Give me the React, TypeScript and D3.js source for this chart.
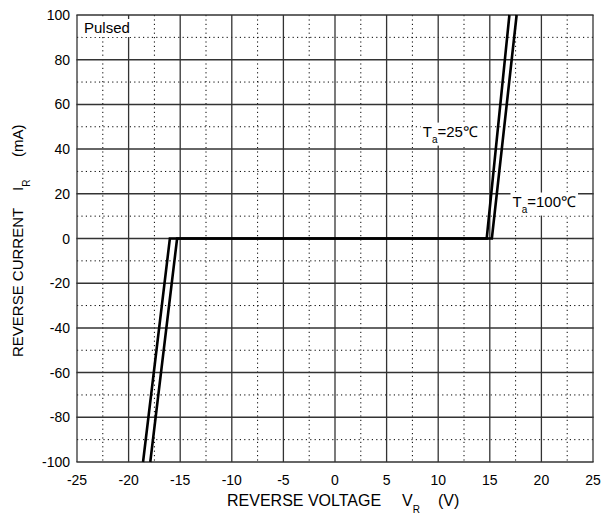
import { useEffect, useRef } from "react"
import * as d3 from "d3"

const width = 603
const height = 518

const voltTicks = [-25, -20, -15, -10, -5, 0, 5, 10, 15, 20, 25]
const currentTicks = [-100, -80, -60, -40, -20, 0, 20, 40, 60, 80, 100]

// breakdown curves: voltage (V) vs current (mA)
const ta25Volt = [-17.9, -15.3, 14.7, 16.9]
const ta25Curr = [-100, 0, 0, 100]
const ta100Volt = [-18.6, -16.0, 15.2, 17.6]
const ta100Curr = [-100, 0, 0, 100]

const curveLabels = [
  { temp: "=25℃", v: 8.5, i: 45.6 },
  { temp: "=100℃", v: 17.2, i: 14.3 },
]

const font = "'Liberation Sans', Arial, sans-serif"

export default function App() {
  const svgRef = useRef<SVGSVGElement>(null)

  useEffect(() => {
    if (!svgRef.current) return
    const svg = d3.select(svgRef.current)
    svg.selectAll("*").remove()

    const x = d3.scaleLinear().domain([-25, 25]).range([77, 593])
    const y = d3.scaleLinear().domain([-100, 100]).range([462, 15])

    svg.append("rect").attr("width", width).attr("height", height).attr("fill", "#fff")

    // dotted minor grid at half steps
    const minorV = d3.pairs(voltTicks).map(([a, b]) => (a + b) / 2)
    const minorI = d3.pairs(currentTicks).map(([a, b]) => (a + b) / 2)
    const grid = svg.append("g")
    grid.selectAll(".mv").data(minorV).enter().append("line")
      .attr("x1", (d) => x(d)).attr("x2", (d) => x(d))
      .attr("y1", y(100)).attr("y2", y(-100))
      .attr("stroke", "#000").attr("stroke-width", 1).attr("stroke-dasharray", "1.2,3.2")
    grid.selectAll(".mi").data(minorI).enter().append("line")
      .attr("x1", x(-25)).attr("x2", x(25))
      .attr("y1", (d) => y(d)).attr("y2", (d) => y(d))
      .attr("stroke", "#000").attr("stroke-width", 1).attr("stroke-dasharray", "1.2,3.2")

    // solid major grid
    grid.selectAll(".MV").data(voltTicks).enter().append("line")
      .attr("x1", (d) => x(d)).attr("x2", (d) => x(d))
      .attr("y1", y(100)).attr("y2", y(-100))
      .attr("stroke", "#333").attr("stroke-width", 1.3)
    grid.selectAll(".MI").data(currentTicks).enter().append("line")
      .attr("x1", x(-25) - 0.6).attr("x2", x(25) + 0.6)
      .attr("y1", (d) => y(d)).attr("y2", (d) => y(d))
      .attr("stroke", "#333").attr("stroke-width", 1.5)

    // tick labels
    svg.selectAll(".xt").data(voltTicks).enter().append("text")
      .attr("x", (d) => x(d)).attr("y", 485)
      .attr("text-anchor", "middle").attr("font-family", font).attr("font-size", 14)
      .text((d) => d)
    svg.selectAll(".yt").data(currentTicks).enter().append("text")
      .attr("x", 70).attr("y", (d) => y(d) + 5)
      .attr("text-anchor", "end").attr("font-family", font).attr("font-size", 14)
      .text((d) => d)

    // labels with white boxes over the grid
    const labelG = svg.append("g")
    const addBoxed = (t: d3.Selection<SVGTextElement, unknown, null, undefined>) => {
      const b = (t.node() as SVGTextElement).getBBox()
      labelG.insert("rect", "text")
        .attr("x", b.x - 2).attr("y", b.y).attr("width", b.width + 4).attr("height", b.height + 1)
        .attr("fill", "#fff")
    }

    const pulsed = labelG.append("text")
      .attr("x", 84).attr("y", 33)
      .attr("font-family", font).attr("font-size", 15)
      .text("Pulsed")
    addBoxed(pulsed)

    curveLabels.forEach((l) => {
      const t = labelG.append("text")
        .attr("x", x(l.v)).attr("y", y(l.i))
        .attr("font-family", font).attr("font-size", 15)
      t.append("tspan").text("T")
      t.append("tspan").attr("dy", 6).attr("font-size", 10).text("a")
      t.append("tspan").attr("dy", -6).text(l.temp)
      addBoxed(t)
    })

    // curves
    const line = d3.line<[number, number]>().x((d) => x(d[0])).y((d) => y(d[1]))
    const curves = [
      d3.zip(ta25Volt, ta25Curr) as [number, number][],
      d3.zip(ta100Volt, ta100Curr) as [number, number][],
    ]
    svg.selectAll(".curve").data(curves).enter().append("path")
      .attr("d", (d) => line(d) || "")
      .attr("fill", "none").attr("stroke", "#000").attr("stroke-width", 2.6)
      .attr("stroke-linejoin", "miter")

    // axis titles
    const xt = svg.append("text")
      .attr("x", 227).attr("y", 506)
      .attr("font-family", font).attr("font-size", 16)
    xt.append("tspan").text("REVERSE VOLTAGE")
    xt.append("tspan").attr("x", 402).text("V")
    xt.append("tspan").attr("dy", 7).attr("font-size", 10).text("R")
    xt.append("tspan").attr("x", 438).attr("dy", -7).text("(V)")

    const yt = svg.append("text")
      .attr("transform", "translate(23, 357) rotate(-90)")
      .attr("font-family", font).attr("font-size", 15)
    yt.append("tspan").attr("x", 0).text("REVERSE CURRENT")
    yt.append("tspan").attr("x", 166).text("I")
    yt.append("tspan").attr("dy", 7).attr("font-size", 10).text("R")
    yt.append("tspan").attr("x", 200).attr("dy", -7).text("(mA)")
  }, [])

  return (
    <svg
      ref={svgRef}
      width={width}
      height={height}
      style={{ position: "absolute", left: 0, top: 0 }}
    />
  )
}
